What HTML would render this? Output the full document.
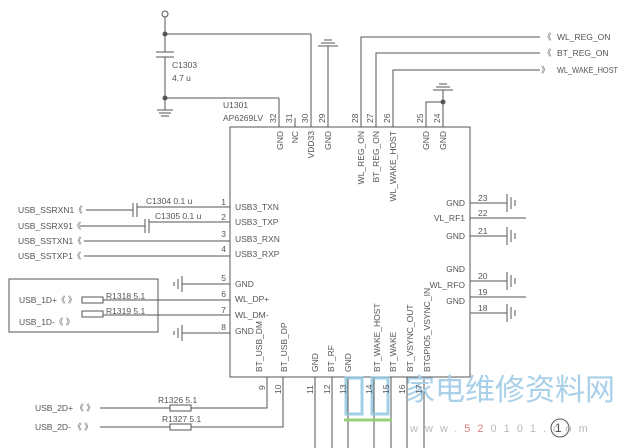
<!DOCTYPE html>
<html><head><style>
html,body{margin:0;padding:0;background:#fff;}
svg{display:block;}
text{font-family:"Liberation Sans",sans-serif;font-size:8.5px;fill:#555;}
</style></head><body>
<svg width="621" height="448" viewBox="0 0 621 448" xmlns="http://www.w3.org/2000/svg">
<g stroke="#555" stroke-width="1" fill="none">
<rect x="230" y="127" width="240" height="250"/>
<circle cx="165" cy="14" r="3"/>
<line x1="165" y1="17" x2="165" y2="52"/>
<line x1="156" y1="52" x2="174" y2="52"/><line x1="156" y1="57" x2="174" y2="57"/>
<line x1="165" y1="57" x2="165" y2="106"/>
<line x1="165" y1="34" x2="311" y2="34"/><line x1="311" y1="34" x2="311" y2="127"/>
<line x1="165" y1="98" x2="279" y2="98"/><line x1="279" y1="98" x2="279" y2="127"/>
<line x1="157" y1="110" x2="173" y2="110"/><line x1="159" y1="113" x2="171" y2="113"/><line x1="161" y1="116" x2="169" y2="116"/>
<line x1="165" y1="106" x2="165" y2="110"/>
<line x1="295" y1="118" x2="295" y2="127"/>
<line x1="328" y1="46" x2="328" y2="127"/>
<line x1="318" y1="46" x2="338" y2="46"/><line x1="321" y1="43" x2="335" y2="43"/><line x1="324" y1="40" x2="332" y2="40"/>
<polyline points="361,127 361,37 540,37"/>
<polyline points="376,127 376,53 540,53"/>
<polyline points="393,127 393,70 540,70"/>
<polyline points="426,127 426,102 443,102"/>
<line x1="443" y1="90" x2="443" y2="127"/>
<line x1="433" y1="90" x2="453" y2="90"/><line x1="436" y1="87" x2="450" y2="87"/><line x1="439" y1="84" x2="447" y2="84"/>
<line x1="86" y1="210" x2="133" y2="210"/><line x1="133" y1="203" x2="133" y2="217"/><line x1="137" y1="203" x2="137" y2="217"/><line x1="137" y1="207" x2="230" y2="207"/>
<line x1="80" y1="226" x2="145" y2="226"/><line x1="145" y1="219" x2="145" y2="233"/><line x1="149" y1="219" x2="149" y2="233"/><line x1="149" y1="222" x2="230" y2="222"/>
<line x1="84" y1="241" x2="230" y2="241"/>
<line x1="84" y1="256" x2="230" y2="256"/>
<line x1="182" y1="284" x2="230" y2="284"/>
<line x1="182" y1="333" x2="230" y2="333"/>
<line x1="182" y1="276" x2="182" y2="292"/><line x1="178" y1="279" x2="178" y2="289"/><line x1="174" y1="282" x2="174" y2="286"/>
<line x1="182" y1="325" x2="182" y2="341"/><line x1="178" y1="328" x2="178" y2="338"/><line x1="174" y1="331" x2="174" y2="335"/>
<rect x="9" y="279" width="149" height="53"/>
<rect x="82" y="297" width="21" height="6"/><rect x="82" y="311" width="21" height="6"/>
<line x1="103" y1="300" x2="230" y2="300"/><line x1="103" y1="315" x2="230" y2="315"/>
<line x1="470" y1="203" x2="507" y2="203"/>
<line x1="470" y1="218" x2="526" y2="218"/>
<line x1="470" y1="236" x2="507" y2="236"/>
<line x1="470" y1="281" x2="507" y2="281"/>
<line x1="470" y1="297" x2="526" y2="297"/>
<line x1="470" y1="313" x2="507" y2="313"/>
<g>
<line x1="507" y1="194" x2="507" y2="212"/><line x1="511" y1="197" x2="511" y2="209"/><line x1="515" y1="200" x2="515" y2="206"/>
<line x1="507" y1="227" x2="507" y2="245"/><line x1="511" y1="230" x2="511" y2="242"/><line x1="515" y1="233" x2="515" y2="239"/>
<line x1="507" y1="272" x2="507" y2="290"/><line x1="511" y1="275" x2="511" y2="287"/><line x1="515" y1="278" x2="515" y2="284"/>
<line x1="507" y1="304" x2="507" y2="322"/><line x1="511" y1="307" x2="511" y2="319"/><line x1="515" y1="310" x2="515" y2="316"/>
</g>
<polyline points="267,377 267,408 191,408"/>
<polyline points="283,377 283,427 191,427"/>
<rect x="170" y="405" width="21" height="6"/><rect x="170" y="424" width="21" height="6"/>
<line x1="100" y1="408" x2="170" y2="408"/><line x1="100" y1="427" x2="170" y2="427"/>
<line x1="315" y1="377" x2="315" y2="448"/><line x1="332" y1="377" x2="332" y2="448"/><line x1="348" y1="377" x2="348" y2="448"/>
<line x1="374" y1="377" x2="374" y2="448"/><line x1="391" y1="377" x2="391" y2="448"/><line x1="407" y1="377" x2="407" y2="448"/><line x1="424" y1="377" x2="424" y2="448"/>
<circle cx="560" cy="428" r="9"/>
</g>
<g fill="#555">
<circle cx="165" cy="34" r="2.5"/><circle cx="165" cy="98" r="2.5"/><circle cx="443" cy="102" r="2.5"/>
</g>
<g stroke="#8cc4e0" stroke-width="3" fill="none" opacity="0.8">
<rect x="346" y="378" width="16" height="36"/><rect x="372" y="378" width="16" height="36"/>
</g>
<line x1="344" y1="420" x2="392" y2="420" stroke="#9ad07a" stroke-width="3"/>
<text x="405" y="400" style="font-size:30px;fill:#a8d0e8;font-family:'Noto Sans CJK SC',sans-serif">家电维修资料网</text>
<text x="410" y="432" style="font-size:11px;fill:#bbb;letter-spacing:7px">www.<tspan style="fill:#e08080">52</tspan>0101.com</text>
<text x="555" y="432" style="font-size:12px;fill:#555">1</text>
<text x="172" y="68">C1303</text><text x="172" y="81">4.7 u</text>
<text x="223" y="108">U1301</text><text x="223" y="121">AP6269LV</text>
<g style="font-size:8px">
<text transform="translate(276,123) rotate(-90)">32</text>
<text transform="translate(292,123) rotate(-90)">31</text>
<text transform="translate(308,123) rotate(-90)">30</text>
<text transform="translate(325,123) rotate(-90)">29</text>
<text transform="translate(358,123) rotate(-90)">28</text>
<text transform="translate(373,123) rotate(-90)">27</text>
<text transform="translate(390,123) rotate(-90)">26</text>
<text transform="translate(423,123) rotate(-90)">25</text>
<text transform="translate(440,123) rotate(-90)">24</text>
</g>
<g>
<text transform="translate(283,131) rotate(-90)" text-anchor="end">GND</text>
<text transform="translate(298,131) rotate(-90)" text-anchor="end">NC</text>
<text transform="translate(314,131) rotate(-90)" text-anchor="end">VDD33</text>
<text transform="translate(331,131) rotate(-90)" text-anchor="end">GND</text>
<text transform="translate(364,131) rotate(-90)" text-anchor="end">WL_REG_ON</text>
<text transform="translate(379,131) rotate(-90)" text-anchor="end">BT_REG_ON</text>
<text transform="translate(396,131) rotate(-90)" text-anchor="end">WL_WAKE_HOST</text>
<text transform="translate(429,131) rotate(-90)" text-anchor="end">GND</text>
<text transform="translate(446,131) rotate(-90)" text-anchor="end">GND</text>
</g>
<text x="543" y="40">《</text><text x="557" y="40">WL_REG_ON</text>
<text x="543" y="56">《</text><text x="557" y="56">BT_REG_ON</text>
<text x="541" y="73">》</text><text x="557" y="73" textLength="61" lengthAdjust="spacingAndGlyphs">WL_WAKE_HOST</text>
<text x="18" y="213">USB_SSRXN1《</text>
<text x="18" y="229">USB_SSRX91《</text>
<text x="18" y="244">USB_SSTXN1《</text>
<text x="18" y="259">USB_SSTXP1《</text>
<text x="146" y="204">C1304  0.1 u</text><text x="155" y="219">C1305  0.1 u</text>
<g text-anchor="end"><text x="226" y="205">1</text><text x="226" y="220">2</text><text x="226" y="237">3</text><text x="226" y="252">4</text>
<text x="226" y="281">5</text><text x="226" y="297">6</text><text x="226" y="313">7</text><text x="226" y="330">8</text></g>
<text x="235" y="210">USB3_TXN</text><text x="235" y="225">USB3_TXP</text><text x="235" y="242">USB3_RXN</text><text x="235" y="257">USB3_RXP</text>
<text x="235" y="287">GND</text><text x="235" y="302">WL_DP+</text><text x="235" y="318">WL_DM-</text><text x="235" y="334">GND</text>
<text x="19" y="303">USB_1D+《 》</text><text x="19" y="325">USB_1D-《 》</text>
<text x="106" y="299">R1318  5.1</text><text x="106" y="314">R1319  5.1</text>
<g text-anchor="end"><text x="465" y="206">GND</text><text x="465" y="221">VL_RF1</text><text x="465" y="239">GND</text>
<text x="465" y="272">GND</text><text x="465" y="288">WL_RFO</text><text x="465" y="304">GND</text></g>
<text x="478" y="201">23</text><text x="478" y="216">22</text><text x="478" y="234">21</text>
<text x="478" y="279">20</text><text x="478" y="295">19</text><text x="478" y="311">18</text>
<g>
<text transform="translate(262,372) rotate(-90)">BT_USB_DM</text>
<text transform="translate(287,372) rotate(-90)">BT_USB_DP</text>
<text transform="translate(318,372) rotate(-90)">GND</text>
<text transform="translate(334,372) rotate(-90)">BT_RF</text>
<text transform="translate(351,372) rotate(-90)">GND</text>
<text transform="translate(380,372) rotate(-90)">BT_WAKE_HOST</text>
<text transform="translate(396,372) rotate(-90)">BT_WAKE</text>
<text transform="translate(413,372) rotate(-90)">BT_VSYNC_OUT</text>
<text transform="translate(430,372) rotate(-90)">BTGPIO5_VSYNC_IN</text>
</g>
<g style="font-size:8px">
<text transform="translate(265,390) rotate(-90)">9</text>
<text transform="translate(281,394) rotate(-90)">10</text>
<text transform="translate(313,394) rotate(-90)">11</text>
<text transform="translate(330,394) rotate(-90)">12</text>
<text transform="translate(346,394) rotate(-90)">13</text>
<text transform="translate(372,394) rotate(-90)">14</text>
<text transform="translate(389,394) rotate(-90)">15</text>
<text transform="translate(405,394) rotate(-90)">16</text>
<text transform="translate(422,394) rotate(-90)">17</text>
</g>
<text x="158" y="403">R1326  5.1</text><text x="162" y="422">R1327  5.1</text>
<text x="35" y="411">USB_2D+ 《 》</text><text x="35" y="430">USB_2D- 《 》</text>
</svg>
</body></html>
